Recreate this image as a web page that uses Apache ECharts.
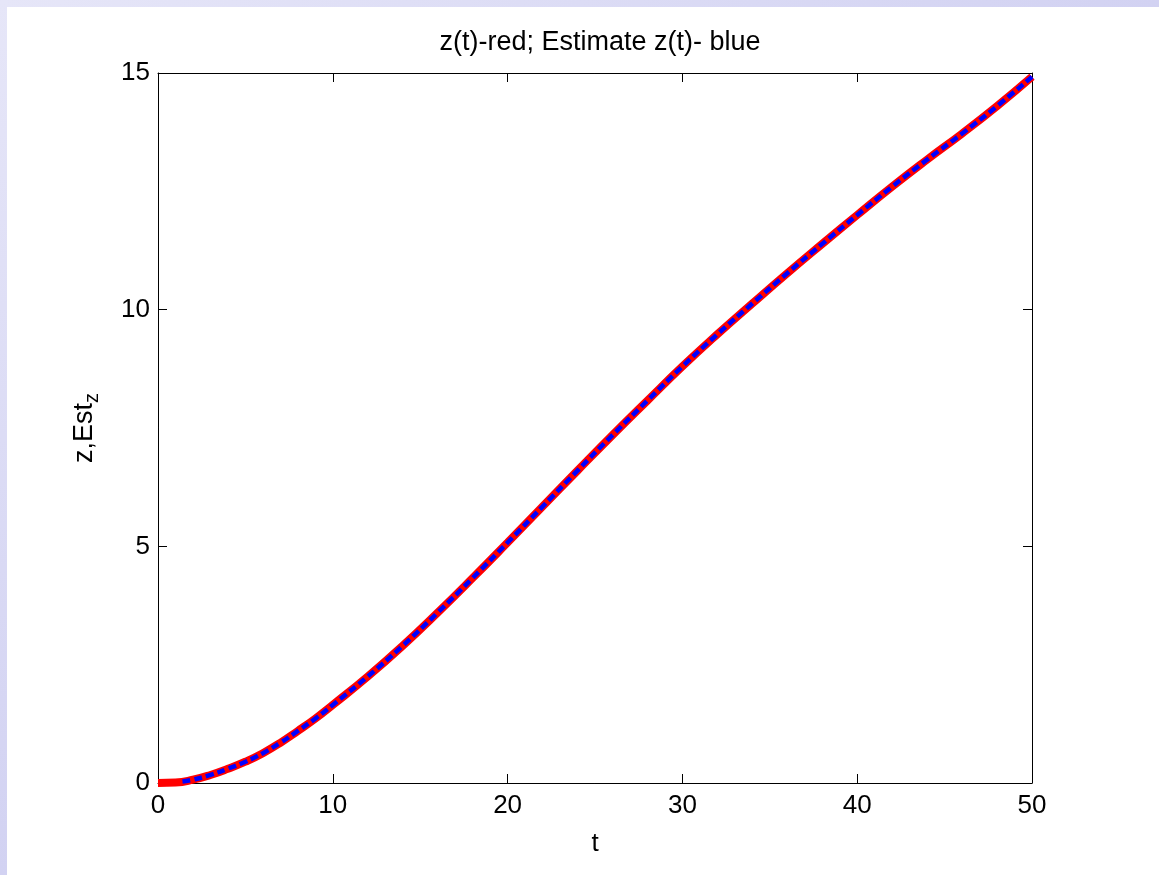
<!DOCTYPE html>
<html>
<head>
<meta charset="utf-8">
<script src="https://cdn.jsdelivr.net/npm/echarts@6/dist/echarts.min.js"></script>
<style>
  html, body { margin: 0; padding: 0; background: #ffffff; }
  #stripTop { position: absolute; left: 0; top: 0; width: 1159px; height: 7px;
    background: linear-gradient(to right, #e6e6f8, #d2d2f2); }
  #stripLeft { position: absolute; left: 0; top: 0; width: 7px; height: 875px;
    background: linear-gradient(to bottom, #e6e6f8, #d2d2f2); }
  #main { position: absolute; left: 0; top: 0; width: 1159px; height: 875px; }
</style>
</head>
<body>
<div id="stripTop"></div>
<div id="stripLeft"></div>
<div id="main"></div>
<script>
// true state z(t)
const tTrue = [0, 1, 2, 3, 4, 5, 6, 7, 8, 9, 10, 12, 14, 16, 18, 20, 22, 24, 26, 28, 30, 32, 34, 36, 38, 40, 42, 44, 46, 48, 50];
const zTrue = [0, 0.01, 0.07, 0.17, 0.3, 0.45, 0.63, 0.85, 1.1, 1.36, 1.65, 2.25, 2.9, 3.6, 4.33, 5.08, 5.84, 6.6, 7.35, 8.08, 8.8, 9.48, 10.13, 10.77, 11.39, 12.0, 12.6, 13.17, 13.72, 14.3, 14.92];

// estimate of z(t), starts a little after t=1
const tEst = [1.4, 2, 3, 4, 5, 6, 7, 8, 9, 10, 12, 14, 16, 18, 20, 22, 24, 26, 28, 30, 32, 34, 36, 38, 40, 42, 44, 46, 48, 50];
const zEst = [0.03, 0.07, 0.17, 0.3, 0.45, 0.63, 0.85, 1.1, 1.36, 1.65, 2.25, 2.9, 3.6, 4.33, 5.08, 5.84, 6.6, 7.35, 8.08, 8.8, 9.48, 10.13, 10.77, 11.39, 12.0, 12.6, 13.17, 13.72, 14.3, 14.92];

const font = 'Liberation Sans, Arial, Helvetica, sans-serif';
const chart = echarts.init(document.getElementById('main'));

const axisLine = { show: true, onZero: false, lineStyle: { color: '#000', width: 1 } };
const tick = { show: true, inside: true, length: 9, lineStyle: { color: '#000' } };

chart.setOption({
  animation: false,
  title: {
    text: 'z(t)-red; Estimate z(t)- blue',
    left: 595,
    top: 24,
    textAlign: 'center',
    textStyle: { fontFamily: font, fontSize: 27, fontWeight: 'normal', color: '#000' }
  },
  grid: { left: 158, right: 127, top: 73, bottom: 92 },
  xAxis: [{
    type: 'value', min: 0, max: 50, interval: 10, position: 'bottom',
    name: 't', nameLocation: 'middle', nameGap: 48,
    nameTextStyle: { fontFamily: font, fontSize: 26, color: '#000' },
    axisLine: axisLine, axisTick: tick, splitLine: { show: false },
    axisLabel: { fontFamily: font, fontSize: 26, color: '#000', margin: 10 }
  }, {
    type: 'value', min: 0, max: 50, interval: 10, position: 'top',
    axisLine: axisLine, axisTick: tick, splitLine: { show: false },
    axisLabel: { show: false }
  }],
  yAxis: [{
    type: 'value', min: 0, max: 15, interval: 5, position: 'left',
    name: '{a|z,Est}{b|z}', nameLocation: 'middle', nameGap: 56,
    nameTextStyle: {
      fontFamily: font, color: '#000',
      rich: {
        a: { fontFamily: font, fontSize: 27, color: '#000', lineHeight: 34 },
        b: { fontFamily: font, fontSize: 20, color: '#000', padding: [14, 0, 0, 0] }
      }
    },
    axisLine: axisLine, axisTick: tick, splitLine: { show: false },
    axisLabel: { fontFamily: font, fontSize: 26, color: '#000', margin: 8 }
  }, {
    type: 'value', min: 0, max: 15, interval: 5, position: 'right',
    axisLine: axisLine, axisTick: tick, splitLine: { show: false },
    axisLabel: { show: false }
  }],
  series: [{
    name: 'z', type: 'line', showSymbol: false, smooth: true,
    data: tTrue.map((t, i) => [t, zTrue[i]]),
    lineStyle: { color: '#ff0000', width: 8 }
  }, {
    name: 'Est z', type: 'line', showSymbol: false, smooth: true,
    data: tEst.map((t, i) => [t, zEst[i]]),
    lineStyle: { color: '#0000ff', width: 4.5, type: [8, 4] }
  }]
});
</script>
</body>
</html>
